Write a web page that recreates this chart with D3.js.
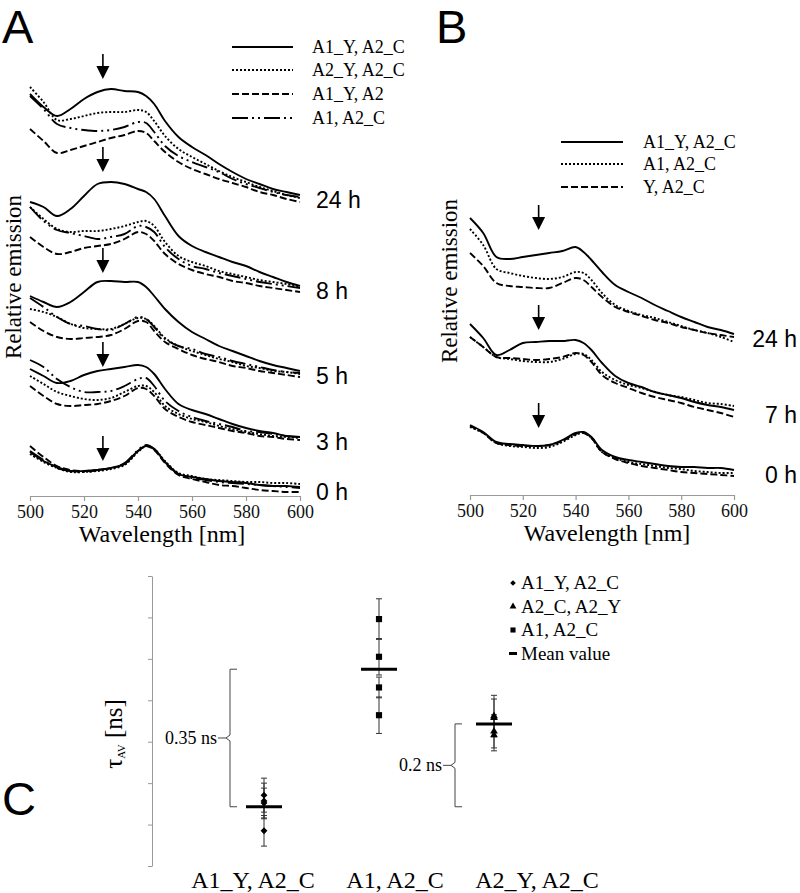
<!DOCTYPE html>
<html><head><meta charset="utf-8">
<script src="https://cdn.jsdelivr.net/npm/d3@7"></script>
<style>body{margin:0;background:#fff}svg{display:block}</style>
</head><body>
<svg id="fig" width="800" height="893"></svg>
<script>
// ---------------- DATA ----------------
const wavelengths = [500,505,510,515,520,525,530,535,540,543,546,550,555,560,565,570,575,580,585,590,595,600];
const xTicks = [500,520,540,560,580,600];

// Panel A: series order = solid, dotted, dashed, dash-dot
const seriesA = ["A1_Y, A2_C","A2_Y, A2_C","A1_Y, A2","A1, A2_C"];
const timesA = ["24 h","8 h","5 h","3 h","0 h"];
const A_24h = [
  [402,389,380,387,397,404,407,405,404,400,392,375,359,349,341,332,324,317,312,307,304,301],
  [409,394,376,377,380,383,384,384,386,384,375,360,347,339,332,325,319,314,309,305,301,298],
  [367,355,343,346,350,354,358,361,365,363,355,344,334,327,322,317,313,309,304,301,297,294],
  [400,387,372,368,366,365,366,369,374,373,364,350,340,334,329,324,317,312,308,304,301,299]];
const A_8h = [
  [294,289,280,287,300,312,314,312,307,304,297,280,260,250,244,239,234,230,224,219,214,210],
  [289,277,267,264,265,265,267,270,274,275,270,254,240,234,230,225,222,219,216,214,212,209],
  [259,249,242,244,248,250,252,257,264,262,255,242,232,226,222,219,215,213,210,208,206,204],
  [289,275,266,263,260,257,259,262,270,269,264,249,237,230,227,223,220,217,214,212,210,208]];
const A_5h = [
  [200,194,189,194,204,214,215,214,214,209,200,187,174,164,157,150,145,140,135,131,128,125],
  [187,184,179,172,168,167,167,172,178,177,170,158,150,145,141,137,134,130,128,125,124,122],
  [174,165,159,157,158,159,161,167,175,174,165,154,147,141,137,134,130,128,125,123,121,119],
  [198,189,179,172,170,167,166,172,179,177,169,157,150,147,142,139,135,132,129,126,124,123]];
const A_3h = [
  [127,120,113,115,121,125,127,129,131,129,122,107,92,86,82,77,72,68,65,63,60,59],
  [120,112,104,100,97,96,98,104,110,110,104,90,82,77,74,70,67,64,62,60,59,58],
  [110,100,92,90,91,92,95,100,108,107,100,87,79,74,71,68,65,63,60,59,57,56],
  [136,129,117,109,104,104,105,110,117,118,110,95,85,79,75,72,69,65,64,62,60,59]];
const A_0h = [
  [44,35,29,25,25,26,28,32,45,50,47,34,22,19,17,15,14,13,11,10,10,9],
  [42,34,28,24,24,25,27,31,44,50,47,35,23,20,17,16,15,14,14,13,13,12],
  [50,39,30,26,25,26,28,32,45,50,46,33,21,17,14,11,10,8,6,5,4,4],
  [45,36,28,25,24,26,28,33,46,51,47,34,22,18,16,14,13,12,11,10,9,8]];
const arrowTipsA = [417,324,223,129,35];
const arrowWavelength = 527;

// Panel B: series order = solid, dotted, dashed
const seriesB = ["A1_Y, A2_C","A1, A2_C","Y, A2_C"];
const timesB = ["24 h","7 h","0 h"];
const B_24h = [
  [277,262,238,236,238,240,242,244,248,243,235,223,210,203,197,190,184,178,173,168,165,161],
  [266,250,226,222,219,217,216,218,223,222,215,202,190,184,180,177,173,169,165,162,158,153],
  [242,229,212,209,208,207,207,212,217,215,208,198,188,183,179,175,172,168,165,162,160,158]];
const B_7h = [
  [171,157,140,145,152,153,154,154,155,152,145,132,119,112,108,103,100,97,93,90,88,85],
  [158,148,138,136,134,133,133,136,141,141,135,123,115,110,107,103,100,98,95,92,91,89],
  [158,148,138,137,136,135,136,138,142,140,133,120,112,107,102,98,95,92,88,85,82,78]];
const B_0h = [
  [70,63,53,51,50,49,50,55,62,63,58,45,38,35,33,31,29,28,28,27,27,25],
  [68,62,52,49,48,47,48,53,60,62,57,43,37,33,31,29,27,26,24,23,22,22],
  [69,62,52,50,49,49,50,54,61,62,57,43,36,32,29,27,25,23,22,21,20,19]];
const arrowTipsB = [265,165,67];
const arrowWavelengthB = 526;

// Panel C: lifetimes (ns, relative)
const categoriesC = ["A1_Y, A2_C","A1, A2_C","A2_Y, A2_C"];
const legendC = ["A1_Y, A2_C","A2_C, A2_Y","A1, A2_C","Mean value"];
const tauDiamond = [0.171,0.157,0.152,0.085];
const tauDiamondErr = [0.041,0.043,0.036,0.037];
const tauSquare = [0.596,0.505,0.431,0.364];
const tauSquareErr = [0.049,0.044,0.025,0.044];
const tauTriangle = [0.362,0.358,0.325,0.316];
const tauTriangleErr = [0.050,0.045,0.040,0.038];
const tauMean = [0.143,0.475,0.343];
const tauTicks = [0,0.1,0.2,0.3,0.4,0.5,0.6,0.7];
const diffLabels = ["0.35 ns","0.2 ns"];

// ---------------- DRAW ----------------
const SERIF = "'Liberation Serif','Times New Roman',serif";
const SANS = "'Liberation Sans',Arial,sans-serif";
const svg = d3.select("#fig");
const dash = {solid:null, dotted:"2,2", dashed:"7,3", dashdot:"16,4,2,4,2,4"};
const stylesA = ["solid","dotted","dashed","dashdot"];
const stylesB = ["solid","dotted","dashed"];

function spectraPanel(cfg){
  const g = svg.append("g");
  const x = d3.scaleLinear([500,600], cfg.xr);
  const y = d3.scaleLinear([0,450], [cfg.y0, cfg.y0-450]);
  const line = d3.line().x((d,i)=>x(wavelengths[i])).y(d=>y(d)).curve(d3.curveCatmullRom.alpha(0.5));
  cfg.groups.forEach((grp,gi)=>{
    grp.forEach((vals,si)=>{
      g.append("path").attr("d",line(vals)).attr("fill","none").attr("stroke","#000")
        .attr("stroke-width",1.9).attr("stroke-dasharray",dash[cfg.styles[si]]);
    });
    const last = grp[0][grp[0].length-1];
    g.append("text").attr("x",cfg.labelX).attr("y",y(last)+5).attr("dy","0.35em")
      .attr("text-anchor",cfg.labelAnchor).attr("font-family",SANS).attr("font-size",23).text(cfg.times[gi]);
  });
  cfg.arrows.forEach(v=>{
    const ax = x(cfg.arrowWl), ay = y(v);
    g.append("line").attr("x1",ax).attr("x2",ax).attr("y1",ay-25).attr("y2",ay-10).attr("stroke","#000").attr("stroke-width",1.6);
    g.append("path").attr("d",`M${ax-6.5},${ay-13}L${ax+6.5},${ay-13}L${ax},${ay}Z`).attr("fill","#000");
  });
  const ax = g.append("g").attr("transform",`translate(0,${cfg.y0})`)
    .call(d3.axisBottom(x).tickValues(xTicks).tickSize(5).tickSizeOuter(0).tickPadding(4));
  ax.select(".domain").attr("stroke","#999").attr("stroke-width",1.2);
  ax.selectAll(".tick line").attr("stroke","#999").attr("stroke-width",1.2);
  ax.selectAll(".tick text").attr("font-family",SERIF).attr("font-size",18).attr("fill","#111");
  g.append("text").attr("x",(cfg.xr[0]+cfg.xr[1])/2+cfg.xtOff).attr("y",cfg.y0+46).attr("text-anchor","middle")
    .attr("font-family",SERIF).attr("font-size",24).text("Wavelength [nm]");
  g.append("text").attr("transform",`translate(${cfg.ytX},${cfg.ytY}) rotate(-90)`).attr("text-anchor","middle")
    .attr("font-family",SERIF).attr("font-size",23).text("Relative emission");
  cfg.series.forEach((s,i)=>{
    const ly = cfg.legY[i];
    g.append("line").attr("x1",cfg.legX[0]).attr("x2",cfg.legX[1]).attr("y1",ly).attr("y2",ly)
      .attr("stroke","#000").attr("stroke-width",2.2).attr("stroke-dasharray",dash[cfg.styles[i]]);
    g.append("text").attr("x",cfg.legX[2]).attr("y",ly).attr("dy","0.33em").attr("font-family",SERIF)
      .attr("font-size",18).text(s);
  });
}

spectraPanel({xr:[30,300], y0:496, groups:[A_24h,A_8h,A_5h,A_3h,A_0h], styles:stylesA, times:timesA,
  labelX:316, labelAnchor:"start", arrows:arrowTipsA, arrowWl:arrowWavelength, xtOff:-3,
  ytX:21, ytY:277, series:seriesA, legY:[47,70,94,118], legX:[232,293,312]});
spectraPanel({xr:[470,734], y0:495, groups:[B_24h,B_7h,B_0h], styles:stylesB, times:timesB,
  labelX:797, labelAnchor:"end", arrows:arrowTipsB, arrowWl:arrowWavelengthB, xtOff:5,
  ytX:457, ytY:281, series:seriesB, legY:[142,164,187], legX:[561,623,643]});

[["A",2,43],["B",436,43],["C",2,815]].forEach(([t,x,y])=>
  svg.append("text").attr("x",x).attr("y",y).attr("font-family",SANS).attr("font-size",47).text(t));

// ---------------- Panel C ----------------
const gC = svg.append("g");
const yC = d3.scaleLinear([0,0.7],[866,576]);
const xC = d3.scalePoint(categoriesC,[264,494]);
const xCL = d3.scalePoint(categoriesC,[253,537]);
const axC = gC.append("g").attr("transform","translate(152,0)")
  .call(d3.axisLeft(yC).tickValues(tauTicks).tickSize(4).tickSizeOuter(0).tickFormat(""));
axC.select(".domain").attr("stroke","#999");
axC.selectAll(".tick line").attr("stroke","#999");

function errPts(cat, vals, errs, sym, size){
  const cx = xC(cat);
  vals.forEach((v,i)=>{
    const e = errs[i];
    gC.append("line").attr("x1",cx).attr("x2",cx).attr("y1",yC(v+e)).attr("y2",yC(v-e)).attr("stroke","#333").attr("stroke-width",1);
    [v+e,v-e].forEach(c=>gC.append("line").attr("x1",cx-3).attr("x2",cx+3).attr("y1",yC(c)).attr("y2",yC(c)).attr("stroke","#333").attr("stroke-width",1));
  });
  vals.forEach(v=>gC.append("path").attr("d",d3.symbol(sym,size)()).attr("transform",`translate(${cx},${yC(v)})`).attr("fill","#000"));
}
errPts(categoriesC[0], tauDiamond, tauDiamondErr, d3.symbolDiamond2, 30);
errPts(categoriesC[1], tauSquare, tauSquareErr, d3.symbolSquare, 38);
errPts(categoriesC[2], tauTriangle, tauTriangleErr, d3.symbolTriangle, 26);
tauMean.forEach((m,i)=>{
  const cx = xC(categoriesC[i]);
  gC.append("line").attr("x1",cx-18).attr("x2",cx+18).attr("y1",yC(m)).attr("y2",yC(m)).attr("stroke","#000").attr("stroke-width",3);
});
categoriesC.forEach(c=>gC.append("text").attr("x",xCL(c)).attr("y",888).attr("text-anchor","middle")
  .attr("font-family",SERIF).attr("font-size",24).text(c));

function bracket(bx, v1, v2, label){
  const t = yC(Math.max(v1,v2)), b = yC(Math.min(v1,v2)), m = (t+b)/2;
  gC.append("path").attr("d",`M${bx+7},${t}H${bx}V${m-3}L${bx-4},${m}L${bx},${m+3}V${b}H${bx+7}M${bx-4},${m}H${bx-12}`)
    .attr("fill","none").attr("stroke","#444").attr("stroke-width",1);
  gC.append("text").attr("x",bx-13).attr("y",m).attr("dy","0.33em").attr("text-anchor","end")
    .attr("font-family",SERIF).attr("font-size",18).text(label);
}
bracket(230, tauMean[0], tauMean[1], diffLabels[0]);
bracket(455, tauMean[0], tauMean[2], diffLabels[1]);

const yt = gC.append("text").attr("transform","translate(122,734) rotate(-90)").attr("text-anchor","middle")
  .attr("font-family",SERIF).attr("font-size",25);
yt.append("tspan").text("τ");
yt.append("tspan").attr("font-size",11).attr("dy",3).text("AV");
yt.append("tspan").attr("dy",-3).text(" [ns]");

const legSyms = [d3.symbolDiamond2, d3.symbolTriangle, d3.symbolSquare];
legendC.forEach((t,i)=>{
  const ly = 583 + i*23.5;
  if(i<3) gC.append("path").attr("d",d3.symbol(legSyms[i], i===2?26:20)()).attr("transform",`translate(513,${ly})`).attr("fill","#000");
  else gC.append("line").attr("x1",509).attr("x2",517).attr("y1",ly).attr("y2",ly).attr("stroke","#000").attr("stroke-width",3);
  gC.append("text").attr("x",521).attr("y",ly).attr("dy","0.33em").attr("font-family",SERIF).attr("font-size",19).text(t);
});
</script>
</body></html>
